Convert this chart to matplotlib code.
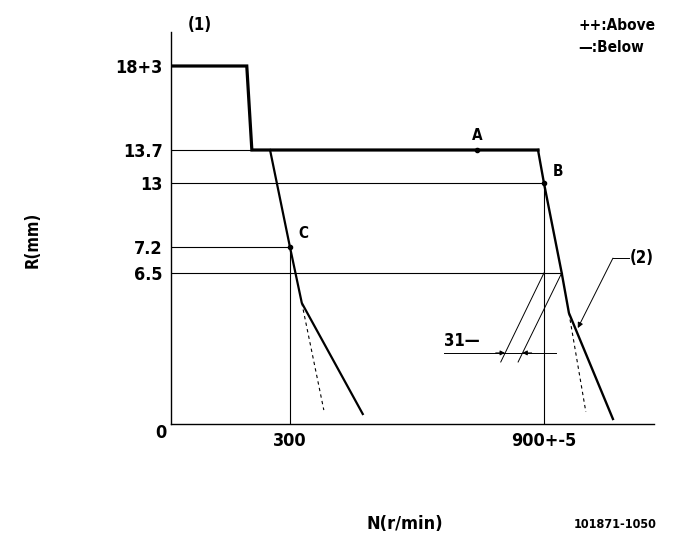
import numpy as np
import matplotlib
matplotlib.use("Agg")
import matplotlib.pyplot as plt
from matplotlib import font_manager

names = sorted({(f.name, f.stretch) for f in font_manager.fontManager.ttflist if 'DejaVu' in f.name or 'Liberation' in f.name or 'Roboto' in f.name})
print(names)

plt.rcParams['font.family'] = ['DejaVu Sans']
plt.rcParams['font.weight'] = 'bold'
plt.rcParams['font.stretch'] = 'condensed'

# ---- data (N in r/min, R in mm) ----
upper_N = [19, 198, 210, 886]
upper_R = [18, 18, 13.7, 13.7]
right_N = [886, 900, 942, 959, 1063]
right_R = [13.7, 13.0, 6.5, 4.78, 0.215]
right_dash_N = [959, 999]
right_dash_R = [4.78, 0.52]
left_N = [253, 300, 328, 472]
left_R = [13.7, 7.2, 5.21, 0.43]
left_dash_N = [328, 380]
left_dash_R = [5.21, 0.60]
pts_N = [742, 900, 300]
pts_R = [13.7, 13.0, 7.2]
pts_lab = ['A', 'B', 'C']
ytick_vals = [18, 13.7, 13, 7.2, 6.5]
ytick_labs = ['18+3', '13.7', '13', '7.2', '6.5']
xtick_vals = [300, 900]
xtick_labs = ['300', '900+-5']
# schematic (non-linear) vertical scale breakpoints
scale_vals = [0, 6.5, 7.2, 13, 13.7, 18, 20]
scale_pos = [0, 151, 177, 241, 274, 358, 392]

W, H = 681, 549
fig = plt.figure(figsize=(W / 100, H / 100), dpi=100)
ax = fig.add_axes([171 / W, (H - 424) / H, (654 - 171) / W, (424 - 32) / H])

def fwd(v):
    return np.interp(v, scale_vals, scale_pos)

def inv(p):
    return np.interp(p, scale_pos, scale_vals)

ax.set_yscale('function', functions=(fwd, inv))
ax.set_xlim(19, 1160)
ax.set_ylim(0, 20)

for s in ['top', 'right']:
    ax.spines[s].set_visible(False)
for s in ['left', 'bottom']:
    ax.spines[s].set_linewidth(1.0)

thin = dict(color='black', lw=0.8)
# reference lines
ax.plot([19, 210], [13.7, 13.7], **thin)
ax.plot([19, 900], [13, 13], **thin)
ax.plot([19, 300], [7.2, 7.2], **thin)
ax.plot([19, 942], [6.5, 6.5], **thin)
ax.plot([300, 300], [0, 7.2], **thin)
ax.plot([900, 900], [0, 13], **thin)

# curves
ax.plot(upper_N, upper_R, color='black', lw=2.3, solid_joinstyle='miter')
ax.plot(right_N, right_R, color='black', lw=1.7)
ax.plot(left_N, left_R, color='black', lw=1.6)
ax.plot(right_dash_N, right_dash_R, color='black', lw=0.8, ls=(0, (3, 3)))
ax.plot(left_dash_N, left_dash_R, color='black', lw=0.8, ls=(0, (3, 3)))

# points
ax.plot(pts_N, pts_R, 'o', color='black', ms=3)
offs = [(0, 5), (6, 3), (6, 4)]
has = ['center', 'left', 'left']
for n, r, lab, o, ha in zip(pts_N, pts_R, pts_lab, offs, has):
    ax.annotate(lab, (n, r), xytext=o, textcoords='offset points',
                ha=ha, va='bottom', fontsize=11)

# 31 dimension
ax.plot([900, 798], [6.5, 2.67], color='black', lw=0.7)
ax.plot([942, 839], [6.5, 2.67], color='black', lw=0.7)
ax.plot([664, 928], [3.06, 3.06], color='black', lw=0.7)
ax.annotate('', xy=(808, 3.06), xytext=(786, 3.06),
            arrowprops=dict(arrowstyle='-|>', color='black', lw=0.7,
                            mutation_scale=7, shrinkA=0, shrinkB=0))
ax.annotate('', xy=(849, 3.06), xytext=(871, 3.06),
            arrowprops=dict(arrowstyle='-|>', color='black', lw=0.7,
                            mutation_scale=7, shrinkA=0, shrinkB=0))
ax.text(664, 3.2, '31—', fontsize=12, ha='left', va='bottom')

# (2) leader
ax.plot([1063, 1100], [6.9, 6.9], color='black', lw=0.7)
ax.annotate('', xy=(980, 4.13), xytext=(1063, 6.9),
            arrowprops=dict(arrowstyle='-|>', color='black', lw=0.7,
                            mutation_scale=8, shrinkA=0, shrinkB=0))
ax.text(1102, 6.9, '(2)', fontsize=12, ha='left', va='center')

# ticks
ax.set_yticks(ytick_vals)
ax.set_yticklabels(ytick_labs)
ax.set_xticks(xtick_vals)
ax.set_xticklabels(xtick_labs)
ax.tick_params(axis='both', length=0, labelsize=13)
ax.tick_params(axis='y', pad=6)
ax.tick_params(axis='x', pad=6)

# figure texts
fig.text(161 / W, 1 - 433 / H, '0', ha='center', va='center', fontsize=13)
fig.text(200 / W, 1 - 25 / H, '(1)', ha='center', va='center', fontsize=12)
fig.text(578 / W, 1 - 25 / H, '++:Above', ha='left', va='center', fontsize=11)
fig.text(578 / W, 1 - 48 / H, '—:Below', ha='left', va='center', fontsize=11)
fig.text(33 / W, 1 - 240 / H, 'R(mm)', rotation=90, ha='center', va='center', fontsize=12)
fig.text(405 / W, 1 - 524 / H, 'N(r/min)', ha='center', va='center', fontsize=13)
fig.text(615 / W, 1 - 524 / H, '101871-1050', ha='center', va='center', fontsize=9)

fig.savefig('out.png', dpi=100)
